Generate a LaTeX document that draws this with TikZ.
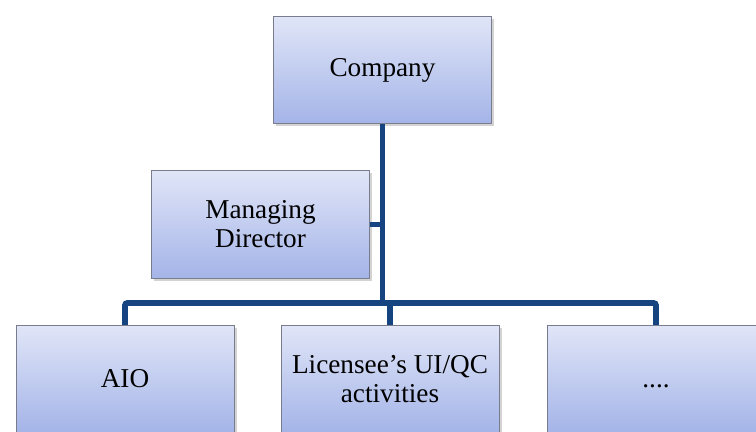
\documentclass[tikz,border=0pt]{standalone}
\usepackage{fontspec}
\setmainfont{Liberation Serif}
\usetikzlibrary{shadows}

\definecolor{boxtop}{RGB}{224,229,247}
\definecolor{boxbottom}{RGB}{164,180,232}
\definecolor{boxline}{RGB}{120,124,140}
\definecolor{linkblue}{RGB}{22,68,128}

\tikzset{
  box/.style = {draw = boxline, line width = 0.6pt, top color = boxtop, bottom color = boxbottom,
    minimum width = 164pt, minimum height = 81pt, inner sep = 0pt, align = center,
    font = \fontsize{20.5}{22}\selectfont,
    drop shadow = {shadow xshift = 2pt, shadow yshift = -2pt, opacity = 0.35, fill = gray}},
  link/.style = {draw = linkblue, line width = 4.5pt}
}

\begin{document}
\begin{tikzpicture}[x = 0.02646cm, y = -0.02646cm]
		\clip (0,0) rectangle (756,432);
		% boxes
		\node[box] (company) at (382.5, 70){Company};
		\node[box] (md) at (260.5, 224.5){Managing\\Director};
		\node[box] (aio) at (125, 379){AIO};
		\node[box] (lic) at (390, 379){Licensee’s UI/QC\\activities};
		\node[box] (more) at (656, 379){\vphantom{AIO}....};
		\coordinate (bar) at (0, 303);
		% connectors
		\draw[link] (company.south) -- (company.south |- bar);
		\draw[link] (md.east) -- (md.east -| company.south);
		\draw[link, rounded corners = 2pt] (aio.north) |- (bar -| more.north) -- (more.north);
		\draw[link] (lic.north) -- (lic.north |- bar);
		\end{tikzpicture}
\end{document}
